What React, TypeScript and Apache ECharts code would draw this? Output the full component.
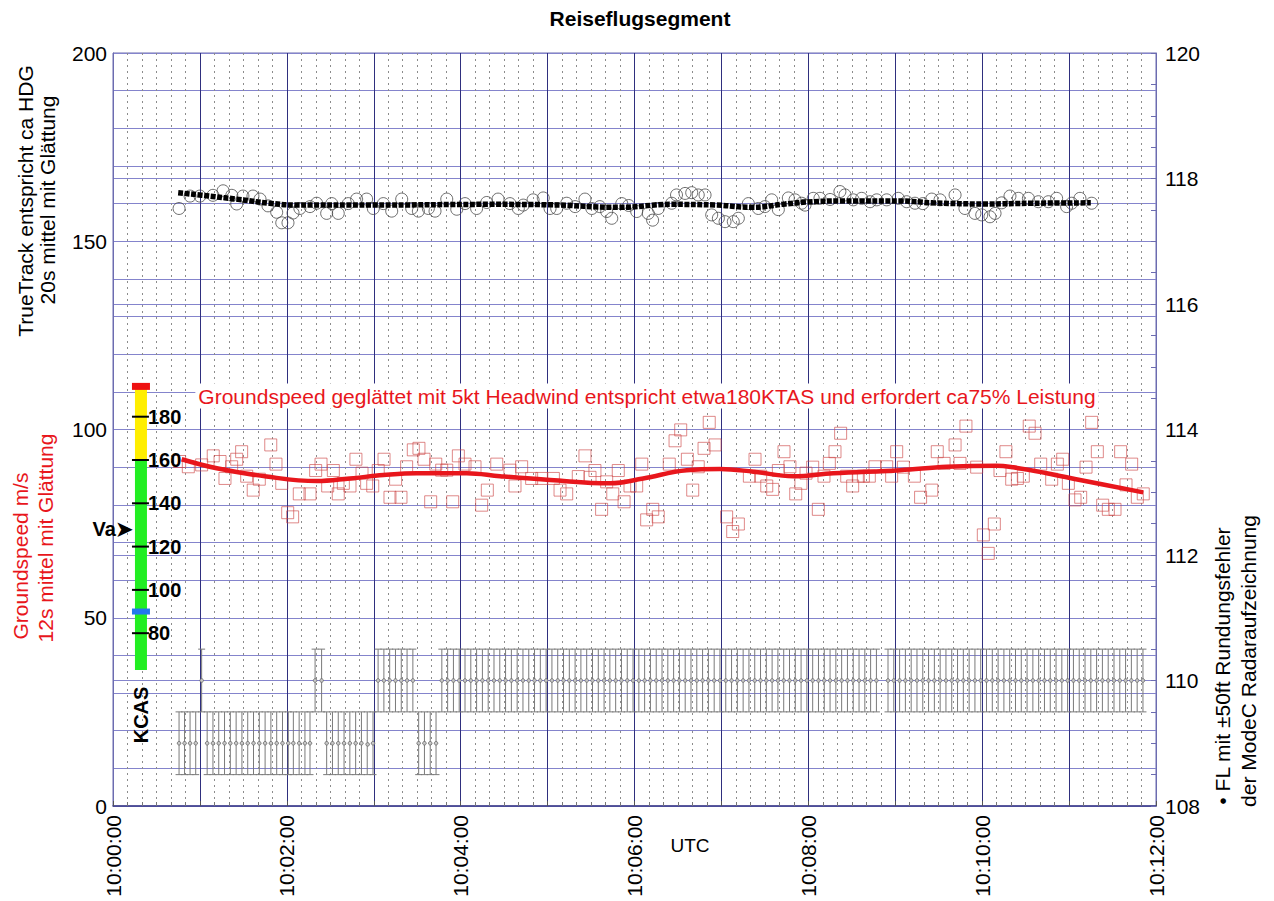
import React, { useEffect, useRef } from "react";
import * as echarts from "echarts";

const FONT = 'Arial, "Liberation Sans", Helvetica, sans-serif';

// time in seconds after 10:00:00 UTC
const xTickLabelStep = 120;

// TrueTrack raw samples (deg)
const trackRawTime = [45.6, 53.2, 60, 69, 76, 82, 85.4, 89.7, 96.6, 101.5, 107, 113, 116.5, 120.8, 124.3, 129, 136, 140.6, 147.5, 151, 155.5, 162.4, 168.2, 175.1, 179.7, 186.6, 192.4, 199.3, 206.2, 210.8, 217.7, 222.3, 230.4, 237.3, 243, 251, 258, 265.8, 274, 279.8, 283.2, 290, 297, 301.7, 306.3, 313.2, 319, 325.8, 330.5, 336, 340.8, 344.3, 351.2, 356, 361.5, 369.5, 372.5, 376.4, 385.7, 389, 394.9, 399.5, 404, 408.7, 413.3, 417.9, 422.5, 428.2, 431.7, 438.6, 445.5, 450, 454.7, 459.3, 466.2, 470.8, 475.4, 477.7, 483.4, 488, 495, 501.8, 505.3, 511, 516.8, 522.6, 527.2, 534.1, 542.1, 547.9, 553.6, 559, 565.2, 570.9, 581.3, 588.1, 595, 599.7, 605.4, 608.9, 613.5, 619.2, 625, 631.9, 638.8, 645.7, 651.4, 658.3, 661.8, 667.5, 675.6];
const trackRawDeg = [158.7, 162.0, 162.0, 162.2, 163.4, 162.2, 159.9, 162.0, 162.0, 161.2, 159.4, 157.7, 154.9, 154.9, 157.5, 158.7, 159.2, 160.1, 157.4, 160.0, 157.4, 160.0, 161.2, 161.2, 158.7, 160.0, 158.0, 161.2, 158.7, 158.0, 158.7, 158.0, 161.2, 158.5, 160.0, 158.7, 160.3, 161.2, 160.0, 158.7, 159.6, 161.0, 161.5, 158.7, 158.7, 160.1, 159.2, 161.2, 158.7, 159.2, 157.9, 156.1, 160.0, 159.5, 157.9, 157.4, 155.6, 158.7, 160.1, 162.3, 162.7, 162.9, 162.3, 162.3, 157.0, 156.1, 155.2, 155.2, 156.1, 160.0, 158.7, 159.2, 161.0, 158.4, 161.5, 161.0, 160.1, 159.6, 161.4, 161.4, 161.1, 163.2, 162.3, 161.0, 161.4, 160.5, 161.0, 161.0, 161.4, 160.5, 160.1, 160.0, 161.2, 161.0, 162.3, 158.7, 157.4, 157.0, 156.5, 157.4, 160.2, 162.0, 161.4, 161.4, 160.5, 160.5, 161.4, 159.2, 160.1, 161.4, 160.1];

// TrueTrack smoothed (deg)
const trackSmoothTime = [45, 69, 85, 108, 127, 178, 260, 300, 350, 385, 417, 441, 464, 478, 502, 543, 566, 603, 635, 675];
const trackSmoothDeg = [162.9, 161.9, 161.2, 160.1, 159.6, 159.6, 159.8, 159.7, 159.0, 159.8, 159.6, 159.0, 159.9, 160.4, 160.7, 160.7, 160.2, 159.9, 160.1, 160.2];

// Groundspeed raw samples (m/s)
const gsRawTime = [46, 52, 61.2, 69.2, 73.9, 77.3, 81.9, 85.4, 88.8, 92.3, 96.8, 101, 108.9, 112.5, 116.5, 120.6, 124, 128.6, 136, 139.9, 143.6, 148.2, 152.1, 155.5, 159, 163.6, 167.7, 171.9, 175.1, 179.3, 183.1, 187.1, 191.2, 195.1, 198.8, 202.7, 207.3, 211.2, 214.7, 219.3, 222.8, 226.9, 230.4, 234.5, 238.4, 243, 249.9, 254.5, 258.4, 264.9, 274, 277.5, 282.1, 289, 296, 304, 308.6, 313.2, 321.2, 325.8, 329.3, 332.7, 337.3, 340.8, 345, 348.8, 352.8, 356.9, 361.5, 365, 368.4, 372.6, 376.4, 384, 388, 391.9, 396.5, 400.2, 404, 408, 411.6, 415.6, 423.6, 427.8, 431.7, 439.3, 443.2, 447.1, 451.3, 455.4, 459.3, 463.2, 467.3, 471.3, 474.9, 478.4, 483, 486.9, 490.8, 494.5, 498.4, 502.3, 506.5, 510.6, 514.5, 518, 522.1, 526, 534.1, 537.5, 541, 545.6, 553.2, 557.5, 565.2, 569, 573.7, 581.3, 584.7, 588.8, 596.2, 600.8, 604.2, 608.4, 612.3, 616.4, 620.4, 624.3, 628.4, 632.5, 636.5, 640.4, 648, 651.9, 655.6, 659.5, 664.1, 668, 671.7, 675.6, 679.5, 683.2, 687.1, 691.7, 695.6, 699.3, 703.2, 707.1, 711.2];
const gsRawMs = [91.5, 90.1, 90.6, 93.0, 91.5, 87.0, 90.1, 92.1, 94.1, 87.6, 83.9, 86.8, 95.9, 90.8, 85.7, 77.9, 76.8, 82.9, 82.9, 89.1, 90.8, 85.0, 89.1, 82.9, 85.7, 85.0, 92.1, 88.4, 85.7, 85.0, 89.1, 92.1, 82.0, 86.8, 82.0, 90.1, 94.6, 95.0, 92.1, 80.8, 90.8, 89.2, 89.2, 80.8, 93.0, 90.8, 90.1, 79.9, 83.9, 90.8, 89.2, 85.0, 90.1, 87.0, 87.0, 87.0, 83.9, 82.9, 87.5, 93.0, 87.3, 89.1, 78.8, 86.1, 82.9, 89.1, 80.8, 85.0, 85.0, 90.8, 76.0, 78.8, 76.8, 90.8, 97.0, 99.9, 92.1, 83.9, 90.1, 95.0, 101.9, 95.9, 76.8, 72.9, 74.9, 87.6, 92.1, 87.6, 85.0, 84.1, 89.1, 94.1, 90.1, 82.9, 85.7, 88.4, 90.0, 78.8, 87.6, 91.0, 94.1, 99.0, 87.6, 85.0, 87.6, 87.6, 87.6, 90.1, 90.1, 87.6, 94.1, 90.0, 87.6, 82.0, 83.9, 94.1, 91.0, 95.9, 91.0, 100.9, 90.0, 72.0, 67.1, 74.9, 89.1, 94.1, 86.8, 87.0, 87.6, 100.9, 99.0, 90.8, 86.8, 90.8, 92.1, 85.7, 81.3, 82.0, 90.0, 101.9, 94.1, 79.9, 78.8, 78.8, 94.1, 85.3, 90.8, 82.0, 82.9];

// Groundspeed smoothed (m/s)
const gsSmoothTime = [47.4, 71.6, 106, 140.6, 163.6, 186.6, 209.6, 244.2, 267.2, 301.7, 343.1, 366, 396, 419, 442, 469.6, 497.2, 543.3, 575.5, 610, 621.5, 644.5, 667.5, 711.2];
const gsSmoothMs = [92.1, 89.7, 87.5, 86.3, 87.0, 87.9, 88.4, 88.4, 87.6, 86.6, 85.7, 87.0, 89.2, 89.5, 88.8, 87.6, 88.4, 89.2, 90.1, 90.4, 89.96, 88.4, 86.6, 83.3];

// Mode C flight level samples (FL, +/- 50 ft)
const fl109Times = [45.6, 49.4, 53.2, 57.1, 65, 69, 73, 77, 81, 85, 89, 93, 97, 101, 105, 109, 113, 117, 121, 124.5, 128.5, 132.5, 136, 147.5, 151.5, 155.5, 159.5, 163.5, 167.5, 171.5, 175.5, 179.5, 211, 215, 219, 223];
const fl110Times = [61.2, 139.5, 144, 183, 187, 191, 195, 199, 203, 207, 227, 231, 235, 239, 243, 247, 251, 255, 259, 263, 267, 271, 275, 279, 283, 287, 291, 295, 299, 303, 307, 311, 315, 319, 323, 327, 331, 335, 339, 343, 347, 351, 355, 359, 363, 367, 371, 375, 379, 383, 387, 391, 395, 399, 403, 407, 411, 415, 419, 423, 427, 431, 435, 439, 443, 447, 451, 455, 459, 463, 467, 471, 475, 479, 483, 487, 491, 495, 499, 503, 507, 511, 515, 519, 523, 527, 535, 539, 543, 547, 551, 555, 559, 563, 567, 571, 575, 579, 583, 587, 591, 595, 599, 603, 607, 611, 615, 619, 623, 627, 631, 635, 639, 643, 647, 651, 655, 659, 663, 667, 671, 675, 679, 683, 687, 691, 695, 699, 703, 707, 711];
const flLevelLow = 109;
const flLevelHigh = 110;
const flError = 0.5;

// KCAS gauge (knots)
const kcasTicks = [80, 100, 120, 140, 160, 180];
const kcasGreen = [63, 160];
const kcasYellow = [160, 193];
const kcasRedMark = 194;
const kcasBlueMark = 90;
const kcasVa = 128;
const kcasTime = 19.3; // horizontal placement on the time axis
const kcasBase = { kt: 80, axis: 45.9, perKt: 0.575 };

const ktToAxis = (kt: number) => kcasBase.axis + (kt - kcasBase.kt) * kcasBase.perKt;

const pad2 = (n: number) => (n < 10 ? "0" + n : String(n));

export default function App() {
  const ref = useRef<HTMLDivElement>(null);

  useEffect(() => {
    document.body.style.margin = "0";
    if (!ref.current) return;
    const chart = echarts.init(ref.current, undefined, { renderer: "svg" });

    const flData = [
      ...fl109Times.map((t) => [t, flLevelLow]),
      ...fl110Times.map((t) => [t, flLevelHigh]),
    ].sort((a, b) => a[0] - b[0]);

    const hGrid = "#8484cc";

    const option: any = {
      animation: false,
      backgroundColor: "#ffffff",
      textStyle: { fontFamily: FONT },
      grid: {
        left: 113,
        top: 53,
        width: 1043,
        height: 753,
        show: true,
        borderColor: "#6c6cb0",
        borderWidth: 1,
        backgroundColor: "transparent",
      },
      xAxis: {
        type: "value",
        min: 0,
        max: 720,
        interval: 60,
        axisLine: { show: true, lineStyle: { color: "#3a3a88", width: 1.5 } },
        axisTick: { show: true, inside: true, length: 5, lineStyle: { color: "#555" } },
        minorTick: { show: true, splitNumber: 6, length: 4, lineStyle: { color: "#777" } },
        splitLine: { show: true, lineStyle: { color: "#2f2f7e", width: 1 } },
        minorSplitLine: { show: true, lineStyle: { color: "#8c8c8c", width: 1, type: [2, 4] } },
        axisLabel: {
          rotate: 90,
          fontSize: 21,
          color: "#000",
          margin: 9,
          fontFamily: FONT,
          formatter: (v: number) =>
            v % xTickLabelStep === 0 ? `10:${pad2(Math.round(v / 60))}:00` : "",
        },
      },
      yAxis: [
        {
          type: "value",
          min: 0,
          max: 200,
          interval: 10,
          position: "left",
          axisLine: { show: true, lineStyle: { color: "#6c6cb0" } },
          axisTick: { show: false },
          splitLine: { show: true, lineStyle: { color: hGrid, width: 1 } },
          axisLabel: {
            fontSize: 21,
            color: "#000",
            margin: 6,
            fontFamily: FONT,
            formatter: (v: number) => (v % 50 === 0 ? String(v) : ""),
          },
        },
        {
          type: "value",
          min: 108,
          max: 120,
          interval: 2,
          position: "right",
          axisLine: { show: true, lineStyle: { color: "#6c6cb0" } },
          axisTick: { show: true, inside: true, length: 5, lineStyle: { color: "#6c6cb0" } },
          minorTick: { show: true, splitNumber: 4, length: 5, lineStyle: { color: "#6c6cb0" } },
          splitLine: { show: true, lineStyle: { color: hGrid, width: 1 } },
          axisLabel: { fontSize: 21, color: "#000", margin: 9, fontFamily: FONT },
        },
      ],
      series: [
        {
          type: "custom",
          name: "FL",
          xAxisIndex: 0,
          yAxisIndex: 1,
          data: flData,
          z: 3,
          renderItem: (params: any, api: any) => {
            const t = api.value(0);
            const v = api.value(1);
            const c = api.coord([t, v]);
            const top = api.coord([t, v + flError]);
            const bot = api.coord([t, v - flError]);
            const cap = 3.5;
            const stroke = "#7a7a7a";
            return {
              type: "group",
              children: [
                { type: "line", shape: { x1: c[0], y1: top[1], x2: c[0], y2: bot[1] }, style: { stroke, lineWidth: 1 } },
                { type: "line", shape: { x1: c[0] - cap, y1: top[1], x2: c[0] + cap, y2: top[1] }, style: { stroke, lineWidth: 1 } },
                { type: "line", shape: { x1: c[0] - cap, y1: bot[1], x2: c[0] + cap, y2: bot[1] }, style: { stroke, lineWidth: 1 } },
                { type: "circle", shape: { cx: c[0], cy: c[1], r: 1.8 }, style: { fill: "#c8c8c8", stroke: "#666", lineWidth: 0.8 } },
              ],
            };
          },
        },
        {
          type: "scatter",
          name: "TrueTrack",
          yAxisIndex: 0,
          symbol: "circle",
          symbolSize: 12,
          z: 4,
          itemStyle: { color: "rgba(0,0,0,0)", borderColor: "#4a4a4a", borderWidth: 1 },
          data: trackRawTime.map((t, i) => [t, trackRawDeg[i]]),
        },
        {
          type: "line",
          name: "TrueTrack geglättet",
          yAxisIndex: 0,
          smooth: 0.4,
          showSymbol: false,
          z: 5,
          lineStyle: { color: "#000", width: 5.5, type: [5, 1.5], cap: "butt" },
          data: trackSmoothTime.map((t, i) => [t, trackSmoothDeg[i]]),
        },
        {
          type: "scatter",
          name: "Groundspeed",
          yAxisIndex: 0,
          symbol: "rect",
          symbolSize: 12,
          z: 4,
          itemStyle: { color: "rgba(0,0,0,0)", borderColor: "rgba(205,70,70,0.8)", borderWidth: 1 },
          data: gsRawTime.map((t, i) => [t, gsRawMs[i]]),
        },
        {
          type: "line",
          name: "Groundspeed geglättet",
          yAxisIndex: 0,
          smooth: 0.4,
          showSymbol: false,
          z: 6,
          lineStyle: { color: "#e8161c", width: 4.5 },
          data: gsSmoothTime.map((t, i) => [t, gsSmoothMs[i]]),
        },
        {
          type: "custom",
          name: "KCAS",
          yAxisIndex: 0,
          data: [[kcasTime, ktToAxis(kcasVa)]],
          z: 8,
          clip: false,
          renderItem: (params: any, api: any) => {
            const cx = api.coord([kcasTime, 0])[0];
            const y = (kt: number) => api.coord([kcasTime, ktToAxis(kt)])[1];
            const children: any[] = [];
            children.push({
              type: "rect",
              shape: { x: cx - 6, y: y(kcasGreen[1]), width: 12, height: y(kcasGreen[0]) - y(kcasGreen[1]) },
              style: { fill: "#22ee22" },
            });
            children.push({
              type: "rect",
              shape: { x: cx - 6, y: y(kcasYellow[1]), width: 12, height: y(kcasYellow[0]) - y(kcasYellow[1]) },
              style: { fill: "#ffee00" },
            });
            children.push({
              type: "rect",
              shape: { x: cx - 9, y: y(kcasRedMark) - 3.5, width: 18, height: 7 },
              style: { fill: "#ee1111" },
            });
            children.push({
              type: "rect",
              shape: { x: cx - 9, y: y(kcasBlueMark) - 3, width: 18, height: 6 },
              style: { fill: "#2277ee" },
            });
            kcasTicks.forEach((k) => {
              const yy = y(k);
              children.push({
                type: "line",
                shape: { x1: cx - 9, y1: yy, x2: cx + 8, y2: yy },
                style: { stroke: "#000", lineWidth: 2 },
              });
              children.push({
                type: "text",
                x: cx + 7,
                y: yy,
                style: {
                  text: String(k),
                  font: `bold 20px ${FONT}`,
                  fill: "#000",
                  align: "left",
                  verticalAlign: "middle",
                  textAlign: "left",
                  textVerticalAlign: "middle",
                },
              });
            });
            children.push({
              type: "text",
              x: cx - 8,
              y: y(kcasVa),
              style: {
                text: "Va➤",
                font: `bold 20px ${FONT}`,
                fill: "#000",
                align: "right",
                verticalAlign: "middle",
                textAlign: "right",
                textVerticalAlign: "middle",
              },
            });
            children.push({
              type: "text",
              x: cx,
              y: y(kcasGreen[0]) + 45,
              rotation: Math.PI / 2,
              style: {
                text: "KCAS",
                font: `bold 20px ${FONT}`,
                fill: "#000",
                align: "center",
                verticalAlign: "middle",
                textAlign: "center",
                textVerticalAlign: "middle",
              },
            });
            return { type: "group", children };
          },
        },
      ],
      graphic: [
        {
          type: "text",
          x: 640,
          y: 18,
          style: {
            text: "Reiseflugsegment",
            font: `bold 21px ${FONT}`,
            fill: "#000",
            align: "center",
            verticalAlign: "middle",
            textAlign: "center",
            textVerticalAlign: "middle",
          },
        },
        {
          type: "text",
          x: 647,
          y: 396,
          z: 10,
          style: {
            text: "Groundspeed geglättet mit 5kt Headwind entspricht etwa180KTAS und erfordert ca75% Leistung",
            font: `21px ${FONT}`,
            fill: "#e8161c",
            align: "center",
            verticalAlign: "middle",
            textAlign: "center",
            textVerticalAlign: "middle",
            backgroundColor: "#ffffff",
            padding: [2, 3],
          },
        },
        ...[
          { text: "TrueTrack entspricht ca HDG", x: 25, y: 201, fill: "#000" },
          { text: "20s mittel mit Glättung", x: 47, y: 200, fill: "#000" },
          { text: "Groundspeed m/s", x: 20, y: 556, fill: "#e8161c" },
          { text: "12s mittel mit Glättung", x: 45, y: 538, fill: "#e8161c" },
          { text: "• FL mit ±50ft Rundungsfehler", x: 1222, y: 666, fill: "#000" },
          { text: "der ModeC Radaraufzeichnung", x: 1248, y: 661, fill: "#000" },
        ].map((d) => ({
          type: "text",
          x: d.x,
          y: d.y,
          rotation: Math.PI / 2,
          style: {
            text: d.text,
            font: `21px ${FONT}`,
            fill: d.fill,
            align: "center",
            verticalAlign: "middle",
            textAlign: "center",
            textVerticalAlign: "middle",
          },
        })),
        {
          type: "text",
          x: 690,
          y: 845,
          style: {
            text: "UTC",
            font: `19px ${FONT}`,
            fill: "#000",
            align: "center",
            verticalAlign: "middle",
            textAlign: "center",
            textVerticalAlign: "middle",
          },
        },
      ],
    };

    chart.setOption(option);
    return () => {
      chart.dispose();
    };
  }, []);

  return <div ref={ref} style={{ width: 1274, height: 901 }} />;
}
